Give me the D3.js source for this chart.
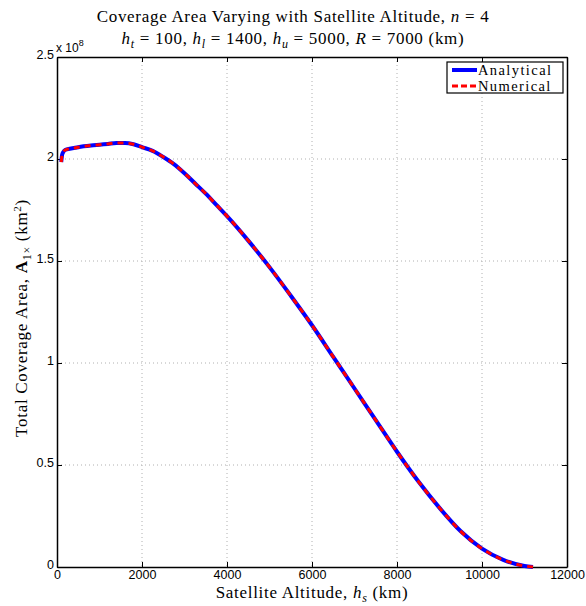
<!DOCTYPE html>
<html><head><meta charset="utf-8">
<script src="https://cdn.jsdelivr.net/npm/d3@7"></script>
<style>
body{margin:0;background:#fff;}
svg{display:block;}
</style></head>
<body>
<svg id="chart" width="586" height="606"></svg>
<script>
// ---- data ----
const altitude = [100,120,150,200,300,500,800,1000,1200,1400,1600,1800,2000,2250,2500,2750,3000,3250,3500,3750,4000,4500,5000,5500,6000,6500,7000,7500,8000,8500,9000,9500,10000,10500,11000,11200];
const analytical = [1.985,2.02,2.035,2.045,2.05,2.058,2.066,2.07,2.074,2.078,2.078,2.072,2.058,2.04,2.01,1.975,1.93,1.88,1.83,1.775,1.72,1.6,1.47,1.33,1.185,1.03,0.875,0.72,0.565,0.42,0.29,0.175,0.09,0.035,0.005,0];
const numerical = analytical.slice();
const xTicks = [0,2000,4000,6000,8000,10000,12000];
const yTicks = [0,0.5,1,1.5,2,2.5];
const yTickLabels = ["0","0.5","1","1.5","2","2.5"];
const seriesNames = ["Analytical","Numerical"];

const svg = d3.select("#chart");
const L=57, R=567, T=57, B=567;
const x = d3.scaleLinear().domain([0,12000]).range([L,R]);
const y = d3.scaleLinear().domain([0,2.5]).range([B,T]);
const sans = "Liberation Sans, Arial, sans-serif";
const serif = "Liberation Serif, Times New Roman, serif";

// grid
const g = svg.append("g");
g.selectAll(".gx").data(xTicks.slice(1,-1)).enter().append("line")
  .attr("x1",d=>x(d)).attr("x2",d=>x(d)).attr("y1",T).attr("y2",B)
  .attr("stroke","#b0b0b0").attr("stroke-width",1).attr("stroke-dasharray","1,3");
g.selectAll(".gy").data(yTicks.slice(1,-1)).enter().append("line")
  .attr("y1",d=>y(d)).attr("y2",d=>y(d)).attr("x1",L).attr("x2",R)
  .attr("stroke","#b0b0b0").attr("stroke-width",1).attr("stroke-dasharray","1,3");

// axes (ticks inward)
const xAxisB = d3.axisBottom(x).tickValues(xTicks).tickSizeInner(-5).tickSizeOuter(0).tickFormat(d3.format("d"));
const xAxisT = d3.axisTop(x).tickValues(xTicks).tickSizeInner(-5).tickSizeOuter(0).tickFormat("");
const yAxisL = d3.axisLeft(y).tickValues(yTicks).tickSizeInner(-5).tickSizeOuter(0).tickFormat((d,i)=>yTickLabels[i]);
const yAxisR = d3.axisRight(y).tickValues(yTicks).tickSizeInner(-5).tickSizeOuter(0).tickFormat("");
function style(sel){
  sel.select(".domain").attr("stroke","#000").attr("stroke-width",1.5);
  sel.selectAll(".tick line").attr("stroke","#000").attr("stroke-width",1);
  sel.selectAll(".tick text").attr("font-family",sans).attr("font-size",12.5).attr("fill","#000");
}
const gb = svg.append("g").attr("transform",`translate(0,${B})`).call(xAxisB).call(style);
gb.selectAll(".tick text").attr("dy","0.71em").attr("y",3);
svg.append("g").attr("transform",`translate(0,${T})`).call(xAxisT).call(style);
const gl = svg.append("g").attr("transform",`translate(${L},0)`).call(yAxisL).call(style);
gl.selectAll(".tick text").attr("x",-3).attr("dy","0.1em");
svg.append("g").attr("transform",`translate(${R},0)`).call(yAxisR).call(style);

// exponent
const ex = svg.append("text").attr("x",56).attr("y",52).attr("font-family",sans).attr("font-size",12);
ex.append("tspan").text("x 10");
ex.append("tspan").attr("font-size",9).attr("dy",-6).text("8");

// lines
const pts1 = altitude.map((a,i)=>[a,analytical[i]]);
const pts2 = altitude.map((a,i)=>[a,numerical[i]]);
const line = d3.line().x(d=>x(d[0])).y(d=>y(d[1])).curve(d3.curveMonotoneX);
svg.append("path").datum(pts1).attr("d",line).attr("fill","none").attr("stroke","#0000ff").attr("stroke-width",4);
svg.append("path").datum(pts2).attr("d",line).attr("fill","none").attr("stroke","#ff0000").attr("stroke-width",3).attr("stroke-dasharray","6,5");

// title
const t1 = svg.append("text").attr("x",293).attr("y",22).attr("text-anchor","middle").attr("font-family",serif).attr("font-size",17).attr("letter-spacing",0.7);
t1.append("tspan").text("Coverage Area Varying with Satellite Altitude, ");
t1.append("tspan").attr("font-style","italic").text("n");
t1.append("tspan").text(" = 4");
const t2 = svg.append("text").attr("x",293).attr("y",44).attr("text-anchor","middle").attr("font-family",serif).attr("font-size",17).attr("letter-spacing",0.7);
function hsub(txt,s,val,last){
  t2.append("tspan").attr("font-style","italic").text(txt);
  t2.append("tspan").attr("font-style","italic").attr("font-size",12).attr("dy",4).text(s);
  t2.append("tspan").attr("dy",-4).text(" = "+val+(last?"":", "));
}
hsub("h","t","100");
hsub("h","l","1400");
hsub("h","u","5000");
t2.append("tspan").attr("font-style","italic").text("R");
t2.append("tspan").text(" = 7000 (km)");

// x label
const xl = svg.append("text").attr("x",312).attr("y",598).attr("text-anchor","middle").attr("font-family",serif).attr("font-size",17).attr("letter-spacing",0.7);
xl.append("tspan").text("Satellite Altitude, ");
xl.append("tspan").attr("font-style","italic").text("h");
xl.append("tspan").attr("font-style","italic").attr("font-size",12).attr("dy",4).text("s");
xl.append("tspan").attr("dy",-4).text(" (km)");

// y label
const yl = svg.append("text").attr("transform","translate(27,318) rotate(-90)").attr("text-anchor","middle").attr("font-family",serif).attr("font-size",17).attr("letter-spacing",0.7);
yl.append("tspan").text("Total Coverage Area, ");
yl.append("tspan").attr("font-weight","bold").text("A");
yl.append("tspan").attr("font-size",12).attr("dy",4).text("1×");
yl.append("tspan").attr("dy",-4).text(" (km");
yl.append("tspan").attr("font-size",11).attr("dy",-6).text("2");
yl.append("tspan").attr("dy",6).text(")");

// legend
const lg = svg.append("g");
const lx=447, ly=62, lw=116, lh=31;
svg.append("clipPath").attr("id","lc").append("rect").attr("x",lx).attr("y",ly).attr("width",lw).attr("height",lh);
lg.append("rect").attr("x",lx).attr("y",ly).attr("width",lw).attr("height",lh).attr("fill","#fff");
const lc = lg.append("g").attr("clip-path","url(#lc)");
const colors = ["#0000ff","#ff0000"];
seriesNames.forEach((n,i)=>{
  const yy = ly+8+i*16;
  lc.append("line").attr("x1",lx+5).attr("x2",lx+30).attr("y1",yy).attr("y2",yy)
    .attr("stroke",colors[i]).attr("stroke-width",i?3:4).attr("stroke-dasharray",i?"6,3":null);
  lc.append("text").attr("x",lx+31).attr("y",yy+5).attr("font-family",serif).attr("font-size",14.5).attr("letter-spacing",1.4).text(n);
});
lg.append("rect").attr("x",lx).attr("y",ly).attr("width",lw).attr("height",lh).attr("fill","none").attr("stroke","#000").attr("stroke-width",1.2);
</script>
</body></html>
